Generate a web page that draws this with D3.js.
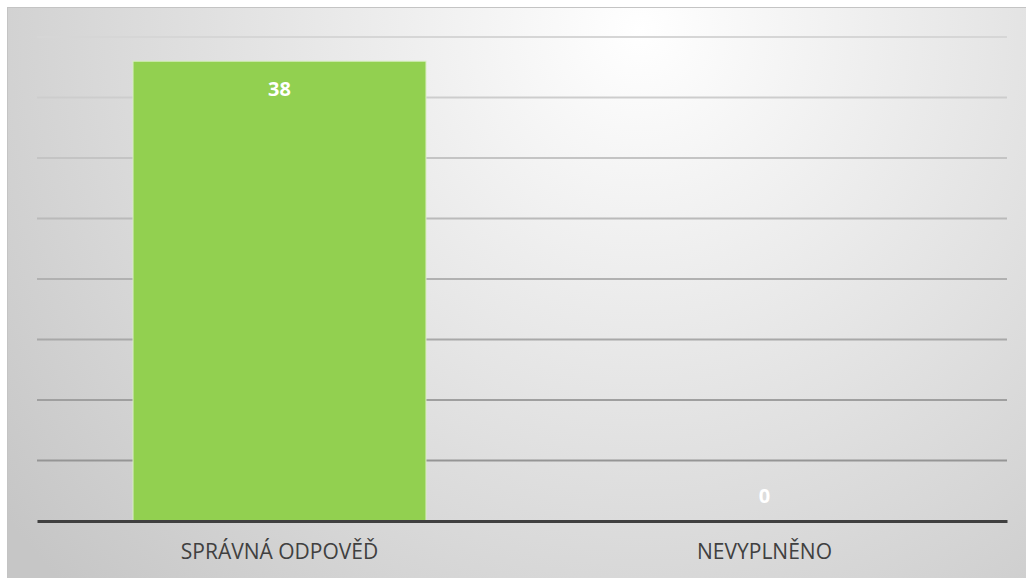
<!DOCTYPE html>
<html>
<head>
<meta charset="utf-8">
<script src="https://cdn.jsdelivr.net/npm/d3@7"></script>
<style>
  body { margin: 0; background: #fff; }
  svg { display: block; }
</style>
</head>
<body>
<div id="chart"></div>
<script>
// data
var categories = ["SPRÁVNÁ ODPOVĚĎ", "NEVYPLNĚNO"];
var values = [38, 0];
var yTicks = [0, 5, 10, 15, 20, 25, 30, 35, 40];

var W = 1026, H = 578;
var margin = {top: 37, right: 19, bottom: 57, left: 37},
    width = W - margin.left - margin.right,
    height = H - margin.top - margin.bottom;

var svg = d3.select("#chart").append("svg")
    .attr("width", W)
    .attr("height", H);

// background gradient
var defs = svg.append("defs");
var grad = defs.append("radialGradient")
    .attr("id", "bg")
    .attr("gradientUnits", "userSpaceOnUse")
    .attr("cx", 640).attr("cy", 30).attr("r", 800);
grad.append("stop").attr("offset", "0%").attr("stop-color", "#ffffff");
grad.append("stop").attr("offset", "100%").attr("stop-color", "#c6c6c6");

svg.append("rect")
    .attr("x", 7.5).attr("y", 7.5)
    .attr("width", W - 7).attr("height", H - 7)
    .attr("fill", "url(#bg)")
    .attr("stroke", "#c4c4c4");

var g = svg.append("g")
    .attr("transform", "translate(" + margin.left + "," + margin.top + ")");

var x = d3.scaleBand()
    .domain(categories)
    .range([0, width])
    .paddingInner(0.396)
    .paddingOuter(0.198);

var y = d3.scaleLinear()
    .domain([0, 40])
    .range([height, 0]);

var gridColor = d3.scaleLinear().domain([0, 40]).range(["#8c8c8c", "#d6d6d6"]);

// gridlines
g.selectAll(".grid")
    .data(yTicks.filter(function(d) { return d > 0; }))
    .enter().append("line")
    .attr("x1", 0).attr("x2", width)
    .attr("y1", function(d) { return y(d); })
    .attr("y2", function(d) { return y(d); })
    .attr("stroke", function(d) { return gridColor(d); })
    .attr("stroke-width", 2);

// bars
g.selectAll(".bar")
    .data(values)
    .enter().append("rect")
    .attr("class", "bar")
    .attr("x", function(d, i) { return x(categories[i]); })
    .attr("width", x.bandwidth())
    .attr("y", function(d) { return y(d); })
    .attr("height", function(d) { return height - y(d); })
    .attr("fill", "#92d050")
    .attr("stroke", function(d) { return d > 0 ? "#d8efc0" : "none"; })
    .attr("stroke-width", 1);

// value labels (inside end; small bars keep the label above the base)
g.selectAll(".val")
    .data(values)
    .enter().append("text")
    .attr("x", function(d, i) { return x(categories[i]) + x.bandwidth() / 2; })
    .attr("y", function(d) { return Math.min(y(d) + 35, height - 18); })
    .attr("text-anchor", "middle")
    .attr("font-family", "'Open Sans', sans-serif")
    .attr("font-weight", "bold")
    .attr("font-size", "20px")
    .attr("fill", "#ffffff")
    .text(function(d) { return d; });

// x axis
var xAxis = g.append("g")
    .attr("transform", "translate(0," + height + ")")
    .call(d3.axisBottom(x).tickSize(0));
xAxis.select(".domain").attr("stroke", "#404040").attr("stroke-width", 3);
xAxis.selectAll("text")
    .attr("y", 38)
    .attr("dy", 0)
    .attr("font-family", "'Open Sans', sans-serif")
    .attr("font-size", "21px")
    .attr("fill", "#404040");
</script>
</body>
</html>
